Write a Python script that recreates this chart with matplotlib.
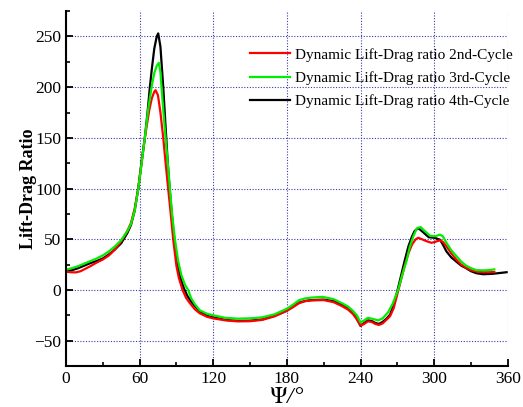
import matplotlib
matplotlib.use('Agg')
import matplotlib.pyplot as plt
from matplotlib.ticker import MultipleLocator

plt.rcParams['font.family'] = ['Liberation Serif', 'DejaVu Serif']
plt.rcParams['mathtext.fontset'] = 'stix'

# azimuth angle (deg) and lift-drag ratio
psi_2nd = [0, 4, 8, 12, 16, 20, 25, 30, 35, 40, 45, 50, 53, 56, 59, 62, 64.3, 66, 68, 70, 72, 73,
           75, 77, 79.3, 81, 83.3, 85, 87.4, 90, 92, 95, 98, 101, 105, 109, 115, 120, 130, 140,
           150, 160, 170, 180, 185, 190, 195, 200, 210, 218, 225, 230, 234, 237, 240, 243, 246,
           249, 252, 255, 258, 261, 264, 267, 270, 273, 276, 279, 282, 285, 287, 290, 294, 297.8,
           301, 304.6, 307, 310, 314, 318, 322, 326, 330, 335, 340, 345, 349]
ld_2nd = [18, 17.5, 17.3, 18.5, 21, 23.5, 27, 30, 34, 40, 48, 58, 66, 80, 100, 128, 150, 163, 178,
          189, 195.5, 197, 192, 175, 150, 128, 100, 80, 50, 24, 12, 0, -8, -13, -19, -23, -26.5,
          -28, -30, -31, -30.8, -29.5, -26, -20.5, -17, -13, -11, -10.3, -10, -12, -16, -19.5, -24,
          -29, -35, -33.5, -31, -31.5, -33.5, -34.5, -33, -29.5, -26, -18, -4, 10, 24, 36, 45,
          50, 51.5, 50, 48, 46.5, 47.5, 49, 47.5, 43, 36, 30, 25, 22, 19.5, 18, 17.5, 17.5, 17.7]

psi_3rd = [0, 5, 10, 15, 20, 25, 30, 35, 40, 45, 50, 53, 56, 59, 62, 64.3, 67, 69.8, 72, 74, 75.7,
           77, 77.9, 79.5, 81.2, 83, 84.7, 86.5, 88.8, 91.5, 94, 97, 99.6, 102, 105, 109, 115, 120,
           130, 140, 150, 160, 170, 180, 185, 190, 195, 200, 209, 218, 225.6, 230, 233.7, 237, 240,
           243, 246, 250, 254.3, 258, 262.5, 266, 270.6, 274, 277.4, 280, 283, 286, 289, 292, 296.6,
           301, 304.6, 307, 310, 314, 318, 322, 326, 330, 334.5, 340, 345, 349]
ld_3rd = [20, 21.5, 23.5, 26, 28.5, 31, 34, 38, 43, 49, 58, 65, 78, 100, 128, 150, 178, 200, 214,
          221, 224, 215, 200, 175, 150, 125, 100, 75, 50, 28, 15, 5, 0, -8, -14, -20, -23.5, -25,
          -27.5, -28.3, -28, -27, -24, -18.5, -14.5, -10, -8.3, -7.5, -6.8, -9, -13.5, -16.5,
          -20.5, -25, -32, -30, -27.5, -28.5, -30, -28, -22, -14, 0, 15, 28.5, 42, 53, 61, 62,
          58.5, 53.5, 53, 54.6, 53, 46.5, 39, 33.5, 28, 24, 21.5, 19.5, 19.3, 19.6, 20.3]

psi_4th = [0, 5, 10, 15, 20, 25, 30, 35, 40, 45, 50, 53, 56, 58.9, 62, 64.3, 66.5, 68.4, 70, 72,
           74, 75.2, 77, 79.3, 81, 83, 84.5, 86.5, 88.3, 91, 93, 96, 99, 103, 109, 115, 120, 130,
           140, 150, 160, 170, 180, 185, 190, 195, 200, 210, 218, 225, 230, 234, 237, 240, 243,
           246, 249, 252, 255, 258, 261, 264, 267, 270, 273, 276, 279, 282, 284, 287, 290, 295.6,
           300, 304.6, 307, 310, 314, 318, 322, 326, 330, 334.5, 340, 348, 354, 359]
ld_4th = [18.5, 19.5, 21.5, 24, 26.5, 28.5, 31, 35, 40, 46, 56, 64, 78, 100, 130, 150, 175, 200,
          218, 238, 250, 253, 240, 200, 165, 125, 100, 72, 50, 25, 13, 2, -6, -13, -21, -25.5,
          -27, -29.5, -30.5, -30.3, -29, -25.5, -20.5, -16, -12.5, -10.8, -10, -9.5, -11, -14.5,
          -17.5, -22, -28.5, -35.5, -32.5, -30, -30.5, -32.5, -33.5, -31.5, -28.5, -24.5, -15,
          -1, 14, 29, 43, 53, 58, 61, 58, 52, 51.5, 49.7, 45, 38, 32, 28, 24, 21.5, 18.5, 16.5,
          15.5, 16, 16.8, 17.5]

labels = ['Dynamic Lift-Drag ratio 2nd-Cycle',
          'Dynamic Lift-Drag ratio 3rd-Cycle',
          'Dynamic Lift-Drag ratio 4th-Cycle']

fig = plt.figure(figsize=(5.23, 4.07), dpi=100)
ax = fig.add_axes([0.126, 0.1007, 0.845, 0.872])

l4, = ax.plot(psi_4th, ld_4th, color='black', lw=1.6, label=labels[2])
l2, = ax.plot(psi_2nd, ld_2nd, color='#ff0000', lw=1.6, label=labels[0])
l3, = ax.plot(psi_3rd, ld_3rd, color='#00ee00', lw=1.6, label=labels[1])

ax.set_xlim(0, 360)
ax.set_ylim(-75, 275)
ax.xaxis.set_major_locator(MultipleLocator(60))
ax.xaxis.set_minor_locator(MultipleLocator(30))
ax.yaxis.set_major_locator(MultipleLocator(50))
ax.yaxis.set_minor_locator(MultipleLocator(25))
ax.set_yticks([-50, 0, 50, 100, 150, 200, 250])

ax.grid(True, which='major', linestyle=(0, (1, 1.5)), color='#3a3aa8', lw=0.8)
ax.spines['top'].set_visible(False)
ax.spines['right'].set_visible(False)
ax.spines['left'].set_linewidth(1.5)
ax.spines['bottom'].set_linewidth(1.5)
ax.tick_params(which='major', direction='in', length=5, width=1.3, labelsize=12.5)
ax.tick_params(which='minor', direction='in', length=3, width=1.2)

ax.set_xlabel(r'$\mathit{\Psi}$/°', fontsize=17, style='italic', labelpad=0)
ax.set_ylabel('Lift-Drag Ratio', fontsize=13, fontweight='bold', labelpad=-2)

ax.legend(handles=[l2, l3, l4], loc='upper left', bbox_to_anchor=(0.40, 0.918),
          frameon=False, fontsize=11, handlelength=2.6, handletextpad=0.35,
          labelspacing=0.62, borderpad=0)

fig.savefig('out.png', dpi=100)
